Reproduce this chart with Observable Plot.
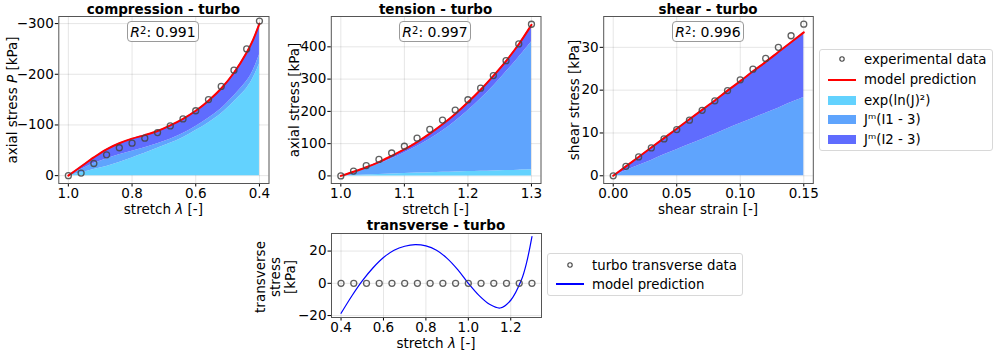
<!DOCTYPE html>
<html><head><meta charset="utf-8">
<script src="https://cdn.jsdelivr.net/npm/d3@7"></script>
<script src="https://cdn.jsdelivr.net/npm/@observablehq/plot@0.6"></script>
<style>
body{margin:0;background:#fff;}
#fig{position:relative;width:996px;height:351px;font-family:"DejaVu Sans",sans-serif;color:#000;overflow:hidden;background:#fff;}
#fig > svg{position:absolute;overflow:visible;}
.abs{position:absolute;white-space:nowrap;}
.title{font-weight:bold;font-size:13.5px;line-height:14px;transform:translate(-50%,-50%);}
.lab{font-size:13.5px;line-height:11px;transform:translate(-50%,-50%);}
.ylab{font-size:13.5px;transform:translate(-50%,-50%) rotate(-90deg);text-align:center;line-height:15px;}
.r2{border:1px solid #9a9a9a;border-radius:4px;font-size:14px;box-sizing:border-box;display:flex;align-items:center;justify-content:center;background:rgba(255,255,255,0.85);}
.r2 sup{font-size:10px;line-height:0;position:relative;top:-1px;}
.legend{border:1px solid #d8d8d8;border-radius:3px;box-sizing:border-box;background:#fff;font-size:13.3px;}
.item{position:absolute;height:20px;display:flex;align-items:center;}
</style>
</head><body>
<div id="fig"></div>
<script>
// ---------- data ----------
const colExp = "#63d2fe", colI1 = "#5fa4fd", colI2 = "#5f6cfe";

// compression
const compStretch = [1.00,0.96,0.92,0.88,0.84,0.80,0.76,0.72,0.68,0.64,0.60,0.56,0.52,0.48,0.44,0.40];
const compData    = [0,-5,-24,-41,-55,-64,-74,-85,-98,-112,-128,-150,-176,-208,-250,-305];
const compModelStretch = [1.00,0.96,0.92,0.88,0.84,0.80,0.76,0.72,0.68,0.64,0.60,0.56,0.52,0.48,0.44,0.42,0.40];
const compModel   = [0,-18,-36,-52,-64,-73,-80,-88,-99,-112,-128,-148,-172,-203,-243,-268,-300];
const compExpTop  = [0,-5,-12,-18,-26,-35,-44,-54,-64,-75,-89,-104,-122,-146,-172,-192,-220];
const compI1Top   = [0,-12,-24,-33,-41,-48,-55,-63,-72,-83,-97,-113,-132,-157,-186,-207,-238];

// tension
const tenStretch = [1.00,1.02,1.04,1.06,1.08,1.10,1.12,1.14,1.16,1.18,1.20,1.22,1.24,1.26,1.28,1.30];
const tenData    = [0,15,32,51,71,92,117,144,173,204,236,272,311,357,409,470];
const tenModel   = [0,13,27,43,62,82,105,131,160,192,228,267,310,356,408,468];
const tenExpTop  = [0,1.5,3,4.5,6,7.5,8.8,10,11.2,12.3,13.4,14.5,15.6,16.7,17.8,19];
const tenI1Top   = [0,11,23,37,53,71,91,114,139,169,202,238,278,322,367,415];

// shear
const shStrain = [0,0.01,0.02,0.03,0.04,0.05,0.06,0.07,0.08,0.09,0.10,0.11,0.12,0.13,0.14,0.15];
const shData   = [0,2.2,4.4,6.5,8.6,10.8,13.0,15.3,17.5,19.9,22.4,24.9,27.4,30.0,32.7,35.4];
const shModel  = [0,2.2,4.4,6.6,8.8,11.0,13.2,15.4,17.6,19.9,22.1,24.4,26.6,28.9,31.2,33.5];
const shExpTop = [0,0,0,0,0,0,0,0,0,0,0,0,0,0,0,0];
const shI1Top  = [0,1.2,2.4,3.6,4.9,6.1,7.3,8.5,9.7,11.0,12.2,13.4,14.6,15.8,17.1,18.3];

// transverse
const trStretch = [0.40,0.46,0.52,0.58,0.64,0.70,0.76,0.82,0.88,0.94,1.00,1.06,1.12,1.18,1.24,1.30];
const trData    = [0,0,0,0,0,0,0,0,0,0,0,0,0,0,0,0];
const trCurveStretch = [0.40,0.45,0.50,0.55,0.60,0.65,0.70,0.75,0.80,0.85,0.90,0.95,1.00,1.05,1.10,1.15,1.20,1.25,1.275,1.30];
const trCurve        = [-18.6,-8,1.5,9.5,16,20.5,23,24,23.2,20.5,15.5,8.5,0,-7.5,-13,-15.3,-10.5,2,13,29];

// tick labels
const compXTicks = [1.0,0.8,0.6,0.4], compYTicks = [0,-100,-200,-300];
const tenXTicks = [1.0,1.1,1.2,1.3], tenYTicks = [0,100,200,300,400];
const shXTicks = [0,0.05,0.10,0.15], shYTicks = [0,10,20,30];
const trXTicks = [0.4,0.6,0.8,1.0,1.2], trYTicks = [-20,0,20];

// ---------- helpers ----------
const fig = document.getElementById("fig");
const zip = (xs, cols) => xs.map((x, i) => { const o = {x}; for (const k in cols) o[k] = cols[k][i]; return o; });

function panel({box, frame, xDomain, yDomain, xTicks, yTicks, xFmt, marks}) {
  const [left, top, w, h] = box;
  const [fl, fr, ft, fb] = frame;
  const svg = Plot.plot({
    width: w, height: h,
    marginLeft: fl - left, marginRight: left + w - fr,
    marginTop: ft - top, marginBottom: top + h - fb,
    style: {fontFamily: "DejaVu Sans", fontSize: "13.5px", color: "#000", background: "transparent", overflow: "visible"},
    x: {domain: xDomain, ticks: xTicks, tickFormat: xFmt, tickSize: 3.5, tickPadding: 1, grid: true, label: null},
    y: {domain: yDomain, ticks: yTicks, tickFormat: d3.format("d"), tickSize: 3.5, tickPadding: 1.5, grid: true, label: null},
    marks: [...marks, Plot.frame({stroke: "#555", strokeWidth: 1})]
  });
  svg.style.left = left + "px";
  svg.style.top = top + "px";
  fig.appendChild(svg);
}

function stackMarks(rows) {
  return [
    Plot.areaY(rows, {x: "x", y1: 0, y2: "e", fill: colExp, curve: "catmull-rom"}),
    Plot.areaY(rows, {x: "x", y1: "e", y2: "i1", fill: colI1, curve: "catmull-rom"}),
    Plot.areaY(rows, {x: "x", y1: "i1", y2: "m", fill: colI2, curve: "catmull-rom"}),
    Plot.line(rows, {x: "x", y: "m", stroke: "#ff0000", strokeWidth: 2, curve: "catmull-rom"})
  ];
}
const dotStyle = {r: 3, stroke: "#444", strokeOpacity: 0.85, strokeWidth: 1.3, fill: "none"};

// compression
panel({
  box: [0, 0, 280, 215], frame: [58.3, 268.5, 16, 183],
  xDomain: [1.03, 0.37], yDomain: [15.5, -314], xTicks: compXTicks, yTicks: compYTicks, xFmt: d3.format(".1f"),
  marks: [
    ...stackMarks(zip(compModelStretch, {m: compModel, e: compExpTop, i1: compI1Top})),
    Plot.dot(zip(compStretch, {y: compData}), {x: "x", y: "y", ...dotStyle})
  ]
});
// tension
panel({
  box: [280, 0, 270, 215], frame: [330.8, 540.5, 16, 183],
  xDomain: [0.985, 1.315], yDomain: [-23.5, 494], xTicks: tenXTicks, yTicks: tenYTicks, xFmt: d3.format(".1f"),
  marks: [
    ...stackMarks(zip(tenStretch, {m: tenModel, e: tenExpTop, i1: tenI1Top})),
    Plot.dot(zip(tenStretch, {y: tenData}), {x: "x", y: "y", ...dotStyle})
  ]
});
// shear
panel({
  box: [560, 0, 260, 215], frame: [603.2, 812.8, 16, 183],
  xDomain: [-0.0075, 0.1575], yDomain: [-1.8, 37.2], xTicks: shXTicks, yTicks: shYTicks, xFmt: d3.format(".2f"),
  marks: [
    ...stackMarks(zip(shStrain, {m: shModel, e: shExpTop, i1: shI1Top})),
    Plot.dot(zip(shStrain, {y: shData}), {x: "x", y: "y", ...dotStyle})
  ]
});
// transverse
panel({
  box: [300, 225, 250, 126], frame: [331, 541, 233, 317],
  xDomain: [0.355, 1.345], yDomain: [-21.2, 30.9], xTicks: trXTicks, yTicks: trYTicks, xFmt: d3.format(".1f"),
  marks: [
    Plot.line(zip(trCurveStretch, {y: trCurve}), {x: "x", y: "y", stroke: "#0000ff", strokeWidth: 1.2, curve: "catmull-rom"}),
    Plot.dot(zip(trStretch, {y: trData}), {x: "x", y: "y", ...dotStyle})
  ]
});

// ---------- text overlays ----------
function add(cls, x, y, html, extra) {
  const d = document.createElement("div");
  d.className = "abs " + cls;
  d.style.left = x + "px"; d.style.top = y + "px";
  d.innerHTML = html;
  if (extra) Object.assign(d.style, extra);
  fig.appendChild(d);
  return d;
}
add("title", 163.4, 9, "compression - turbo");
add("title", 435.6, 9, "tension - turbo");
add("title", 708, 9, "shear - turbo");
add("title", 436, 225, "transverse - turbo");

add("lab", 163.4, 209, "stretch <i>λ</i> [-]");
add("lab", 435.6, 209, "stretch [-]");
add("lab", 708, 209, "shear strain [-]");
add("lab", 436, 342.5, "stretch <i>λ</i> [-]");

add("ylab", 11.5, 100, "axial stress <i>P</i> [kPa]");
add("ylab", 294, 100, "axial stress [kPa]");
add("ylab", 574, 100, "shear stress [kPa]");
add("ylab", 275, 277, "transverse<br>stress<br>[kPa]");

const r2 = [[127, "0.991"], [399, "0.997"], [672, "0.996"]];
for (const [x, v] of r2) add("r2", x, 21, "<i>R</i><sup>2</sup>: " + v, {width: "72px", height: "21px"});

// legend 1
const lg = add("legend", 819, 49, "", {width: "174px", height: "102px"});
function item(parent, y, swatch, text) {
  const it = document.createElement("div");
  it.className = "item"; it.style.left = "0px"; it.style.top = y + "px"; it.style.width = "100%";
  it.innerHTML = `<div style="width:44px;display:flex;justify-content:center;align-items:center">${swatch}</div><div>${text}</div>`;
  parent.appendChild(it);
}
const circ = `<svg width="8" height="8" style="overflow:visible;display:block"><circle cx="4" cy="4" r="2.2" fill="none" stroke="#444" stroke-width="1.1"/></svg>`;
const line = (c, w) => `<div style="width:28px;height:${w}px;background:${c}"></div>`;
const sw = c => `<div style="width:28px;height:9px;background:${c}"></div>`;
item(lg, -1, circ, "experimental data");
item(lg, 19.5, line("#ff0000", 2), "model prediction");
item(lg, 40, sw(colExp), "exp(ln(J)²)");
item(lg, 59.5, sw(colI1), "Jᵐ(I1 - 3)");
item(lg, 79, sw(colI2), "Jᵐ(I2 - 3)");

// legend 2
const lg2 = add("legend", 547, 253, "", {width: "196px", height: "43px"});
item(lg2, 1, circ, "turbo transverse data");
item(lg2, 20, line("#0000ff", 1.3), "model prediction");
</script>
</body></html>
